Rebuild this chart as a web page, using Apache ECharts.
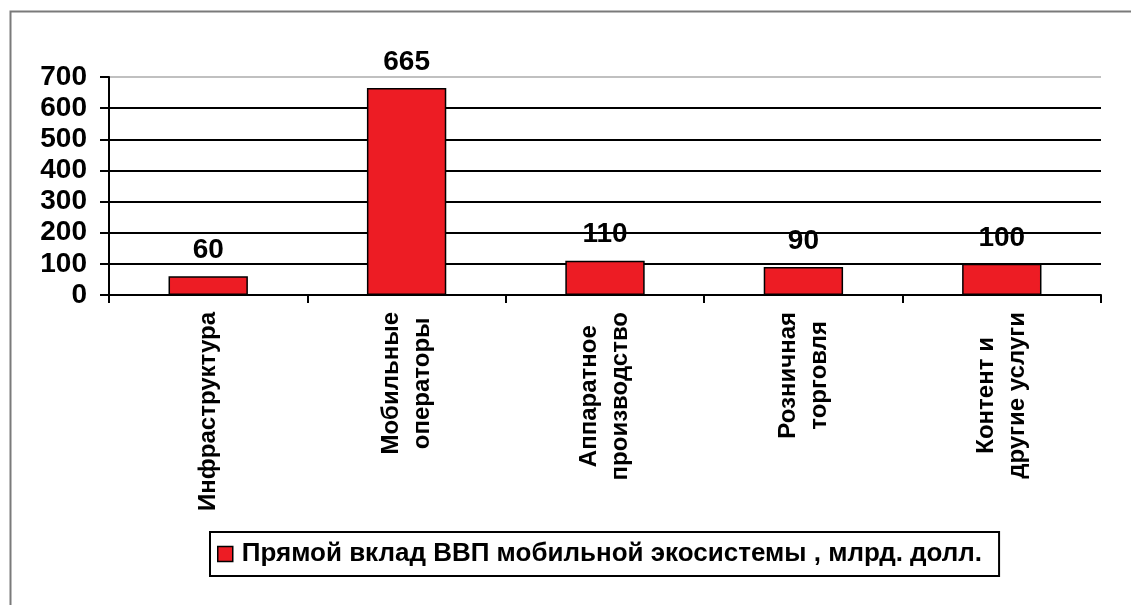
<!DOCTYPE html>
<html>
<head>
<meta charset="utf-8">
<script src="https://cdn.jsdelivr.net/npm/echarts@6/dist/echarts.min.js"></script>
<style>
html,body{margin:0;padding:0;background:#fff;}
#chart{width:1131px;height:605px;}
</style>
</head>
<body>
<div id="chart"></div>
<script>
const categories = ['Инфраструктура', 'Мобильные\nоператоры', 'Аппаратное\nпроизводство', 'Розничная\nторговля', 'Контент и\nдругие услуги'];
const values = [60, 665, 110, 90, 100];
const seriesName = 'Прямой вклад ВВП мобильной экосистемы , млрд. долл.';
const yMin = 0, yMax = 700, yStep = 100;

const FONT = '"Liberation Sans", Arial, sans-serif';
const chart = echarts.init(document.getElementById('chart'), null, {renderer: 'canvas'});
chart.setOption({
  animation: false,
  backgroundColor: '#fff',
  textStyle: {fontFamily: FONT},
  graphic: [{
    type: 'rect', left: 8, top: 9, z: -10,
    shape: {width: 1200, height: 700},
    style: {fill: 'none', stroke: '#7a7a7a', lineWidth: 2}
  }],
  grid: {left: 109, right: 30, top: 77, bottom: 310, containLabel: false},
  legend: {
    left: 210, top: 532,
    padding: [9, 17, 9, 7],
    borderColor: '#000', borderWidth: 2,
    itemWidth: 15, itemHeight: 15, itemGap: 6,
    icon: 'rect',
    itemStyle: {color: '#ED1C24', borderColor: '#000', borderWidth: 1.5},
    textStyle: {fontFamily: FONT, fontSize: 26, fontWeight: 'bold', color: '#000', padding: [2, 0, 0, 4]},
    data: [seriesName]
  },
  xAxis: {
    type: 'category',
    data: categories,
    boundaryGap: true,
    axisLine: {lineStyle: {color: '#000', width: 2}},
    axisTick: {show: true, inside: false, length: 8, alignWithLabel: false, lineStyle: {color: '#000', width: 2}},
    axisLabel: {
      rotate: 90, margin: 17, interval: 0,
      color: '#000', fontFamily: FONT, fontSize: 24, fontWeight: 'bold', lineHeight: 31,
      formatter: function (v) { return v.split('\n').map(s => '{c|' + s + '}').join('\n'); },
      rich: {c: {align: 'center', fontFamily: FONT, fontSize: 24, fontWeight: 'bold', lineHeight: 31, color: '#000'}}
    },
    splitLine: {show: false}
  },
  yAxis: {
    type: 'value', min: yMin, max: yMax, interval: yStep,
    axisLine: {show: true, lineStyle: {color: '#000', width: 2}},
    axisTick: {show: true, inside: false, length: 9, lineStyle: {color: '#000', width: 2}},
    axisLabel: {color: '#000', fontFamily: FONT, fontSize: 28, fontWeight: 'bold', margin: 22},
    splitLine: {show: true, lineStyle: {color: ['#000', '#000', '#000', '#000', '#000', '#000', '#000', '#c0c0c0'], width: 2}}
  },
  series: [{
    type: 'bar',
    name: seriesName,
    data: values,
    barWidth: '40%',
    itemStyle: {color: '#ED1C24', borderColor: '#000', borderWidth: 1.5},
    label: {show: true, position: 'top', distance: 12, color: '#000', fontFamily: FONT, fontSize: 28, fontWeight: 'bold'}
  }]
});
</script>
</body>
</html>
